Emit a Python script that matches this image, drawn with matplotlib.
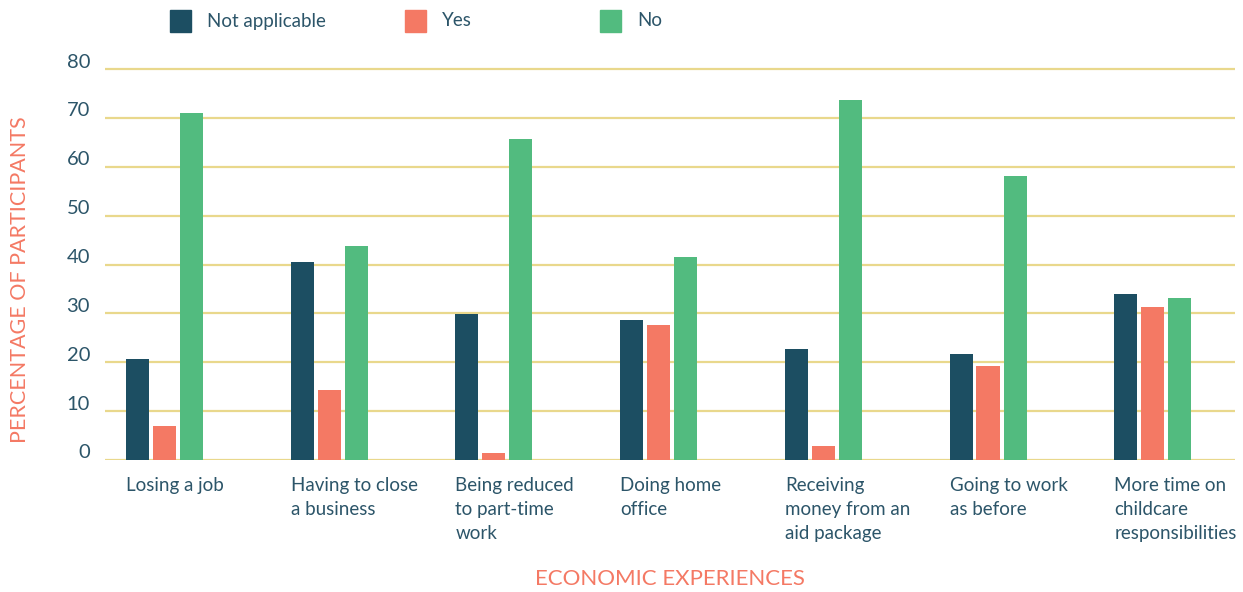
import matplotlib
matplotlib.use("Agg")
import matplotlib.pyplot as plt
from matplotlib.patches import Rectangle
from matplotlib.transforms import blended_transform_factory, ScaledTranslation
import numpy as np

categories = ["Losing a job", "Having to close\na business", "Being reduced\nto part-time\nwork",
              "Doing home\noffice", "Receiving\nmoney from an\naid package", "Going to work\nas before",
              "More time on\nchildcare\nresponsibilities"]
series_names = ["Not applicable", "Yes", "No"]
not_applicable = [20.7, 40.5, 29.9, 28.6, 22.7, 21.7, 33.9]
yes = [7.0, 14.3, 1.4, 27.6, 2.9, 19.2, 31.3]
no = [71.0, 43.8, 65.6, 41.5, 73.6, 58.1, 33.1]
yticks = [0, 10, 20, 30, 40, 50, 60, 70, 80]

colors = ["#1c4e62", "#f47964", "#52bb7f"]
text_color = "#2c5569"
accent = "#f47964"
grid_color = "#e9d88c"
plt.rcParams['font.family'] = ['Lato', 'DejaVu Sans']

W, H = 1243, 592
fig = plt.figure(figsize=(W / 100, H / 100), dpi=100)
ppu = 391 / 80.0
ymax = 80.5
top_px = 460 - ymax * ppu
ax = fig.add_axes([105 / W, 1 - 460 / H, (1235 - 105) / W, (460 - top_px) / H])

slot = 164.7
bw = 23 / slot
step = 27 / slot
x = np.arange(len(categories))
for k, vals in enumerate([not_applicable, yes, no]):
    ax.bar(x + k * step, vals, width=bw, align='edge', color=colors[k], zorder=3)

ax.set_xlim((105 - 126) / slot, (1235 - 126) / slot)
ax.set_ylim(0, ymax)
ax.set_yticks([])
ax.set_xticks([])
for t in yticks:
    ax.axhline(t, color=grid_color, lw=1.6, zorder=1)
for s in ax.spines.values():
    s.set_visible(False)

ytrans = blended_transform_factory(ax.transAxes, ax.transData) + ScaledTranslation(0, 0.07, fig.dpi_scale_trans)
for t in yticks:
    ax.text((90 - 105) / 1130, t, str(t), transform=ytrans, ha='right', va='center',
            fontsize=14.5, color=text_color)

trans = blended_transform_factory(ax.transData, ax.transAxes)
for i, c in enumerate(categories):
    ax.text(i, -0.043, c, transform=trans, ha='left', va='top', fontsize=13.5,
            color=text_color, linespacing=1.5)

fig.text(20 / W, 1 - 280 / H, "PERCENTAGE OF PARTICIPANTS", rotation=90, ha='center', va='center',
         fontsize=15.5, color=accent)
fig.text(670 / W, 1 - 579 / H, "ECONOMIC EXPERIENCES", ha='center', va='center', fontsize=16, color=accent)

leg_x = [170, 405, 600]
for k, name in enumerate(series_names):
    fig.add_artist(Rectangle((leg_x[k] / W, 1 - 32 / H), 21 / W, 22 / H, transform=fig.transFigure,
                             color=colors[k]))
    fig.text((leg_x[k] + 37) / W, 1 - 21 / H, name, ha='left', va='center', fontsize=13.5, color=text_color)

fig.savefig("out.png", dpi=100, facecolor='white')
